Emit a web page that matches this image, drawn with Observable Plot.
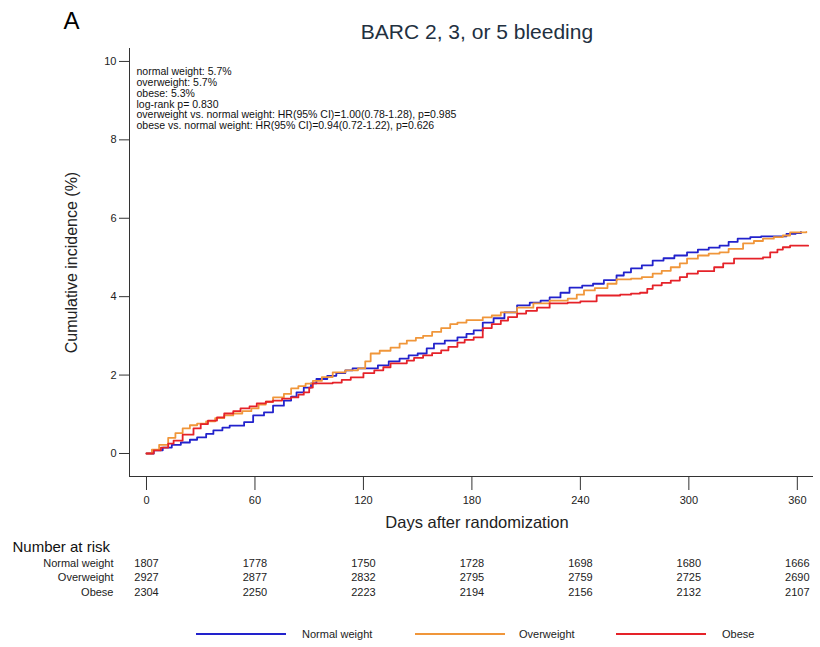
<!DOCTYPE html>
<html>
<head>
<meta charset="utf-8">
<script src="https://cdn.jsdelivr.net/npm/d3@7"></script>
<script src="https://cdn.jsdelivr.net/npm/@observablehq/plot@0.6"></script>
<style>
  body { margin: 0; background: #fff; }
  #wrap { position: relative; width: 820px; height: 647px; font-family: "Liberation Sans", Arial, sans-serif; }
  #legend { position: absolute; left: 0; top: 626px; width: 820px; height: 16px; font-size: 11px; color: #222; }
  #legend .sw { position: absolute; top: 7px; height: 2px; width: 90px; }
  #legend .lb { position: absolute; top: 1px; line-height: 14px; }
</style>
</head>
<body>
<div id="wrap"></div>
<script>
// ---------- data ----------
const groups = ["Normal weight", "Overweight", "Obese"];
const groupColors = ["#2222cc", "#f0963a", "#e52229"];

// Kaplan-Meier style cumulative incidence (%): [day, value]
const normalWeight = [[0,0],[4,0.08],[9,0.15],[14,0.22],[19,0.28],[24,0.35],[28,0.41],[33,0.5],[37,0.59],[42,0.66],[46,0.71],[54,0.8],[59,0.97],[65,1.05],[70,1.22],[76,1.35],[80,1.45],[83,1.56],[87,1.68],[91,1.79],[94,1.9],[100,1.98],[105,2.05],[110,2.12],[114,2.17],[128,2.25],[134,2.35],[140,2.42],[145,2.5],[150,2.55],[155,2.68],[159,2.8],[165,2.88],[172,2.96],[177,3.05],[181,3.14],[186,3.34],[192,3.45],[198,3.6],[205,3.78],[212,3.85],[218,3.9],[223,3.98],[229,4.1],[234,4.23],[241,4.28],[247,4.33],[253,4.42],[260,4.54],[264,4.62],[268,4.72],[274,4.8],[280,4.92],[286,4.98],[292,5.05],[299,5.13],[305,5.2],[311,5.25],[317,5.3],[322,5.4],[327,5.48],[334,5.52],[340,5.54],[354,5.6],[359,5.62],[362,5.65]];
const overweight = [[0,0],[3,0.1],[7,0.22],[12,0.4],[16,0.52],[20,0.64],[24,0.72],[28,0.76],[33,0.82],[38,0.9],[43,0.97],[48,1.02],[53,1.08],[58,1.15],[62,1.25],[66,1.32],[70,1.43],[76,1.52],[80,1.66],[84,1.72],[88,1.78],[92,1.85],[97,1.95],[103,2.07],[110,2.12],[117,2.17],[121,2.35],[124,2.55],[129,2.62],[135,2.7],[140,2.8],[144,2.88],[149,2.95],[153,3.0],[158,3.1],[163,3.2],[168,3.3],[172,3.34],[177,3.4],[186,3.47],[191,3.52],[196,3.6],[205,3.72],[214,3.83],[223,3.9],[233,3.95],[238,4.05],[242,4.16],[248,4.22],[255,4.33],[260,4.44],[268,4.46],[274,4.5],[280,4.59],[285,4.66],[290,4.75],[295,4.85],[299,4.97],[305,5.05],[311,5.1],[317,5.13],[322,5.22],[330,5.36],[336,5.42],[341,5.48],[347,5.52],[352,5.56],[356,5.64],[365,5.65]];
const obese = [[0,0],[4,0.08],[8,0.15],[12,0.25],[15,0.33],[20,0.48],[26,0.64],[30,0.75],[34,0.84],[39,0.92],[43,1.02],[48,1.08],[52,1.15],[57,1.2],[61,1.28],[66,1.32],[70,1.35],[75,1.4],[80,1.43],[84,1.5],[87,1.56],[90,1.68],[92,1.79],[103,1.81],[108,1.88],[113,1.94],[120,2.05],[126,2.12],[131,2.2],[135,2.3],[144,2.37],[148,2.44],[153,2.5],[158,2.56],[163,2.63],[167,2.72],[172,2.83],[176,2.9],[181,2.96],[186,3.2],[191,3.3],[196,3.39],[200,3.48],[205,3.57],[210,3.64],[216,3.72],[223,3.83],[233,3.85],[240,3.88],[249,4.03],[262,4.05],[268,4.08],[273,4.1],[277,4.2],[280,4.29],[285,4.35],[290,4.41],[295,4.5],[299,4.59],[305,4.65],[314,4.75],[319,4.85],[325,4.97],[341,5.0],[345,5.13],[349,5.2],[352,5.26],[356,5.3],[366,5.3]];

const xTicks = [0, 60, 120, 180, 240, 300, 360];
const yTicks = [0, 2, 4, 6, 8, 10];
const riskNormal = [1807, 1778, 1750, 1728, 1698, 1680, 1666];
const riskOver   = [2927, 2877, 2832, 2795, 2759, 2725, 2690];
const riskObese  = [2304, 2250, 2223, 2194, 2156, 2132, 2107];

const annotation = [
  "normal weight: 5.7%",
  "overweight: 5.7%",
  "obese: 5.3%",
  "log-rank p= 0.830",
  "overweight vs. normal weight: HR(95% CI)=1.00(0.78-1.28), p=0.985",
  "obese vs. normal weight: HR(95% CI)=0.94(0.72-1.22), p=0.626"
];
const panelLetter = "A";
const title = "BARC 2, 3, or 5 bleeding";
const xLabel = "Days after randomization";
const yLabel = "Cumulative incidence (%)";
const riskTitle = "Number at risk";

// ---------- build tables ----------
const series = [normalWeight, overweight, obese];
const curveRows = series.flatMap((s, i) => s.map(([day, value]) => ({day, value, group: groups[i]})));
const riskSets = [riskNormal, riskOver, riskObese];
const riskRows = riskSets.map(r => r.map((n, i) => ({day: xTicks[i], n})));

const font = "'Liberation Sans', Arial, sans-serif";
const ink = "#222";

const rowDy = [87, 101, 116];

const plot = Plot.plot({
  width: 820,
  height: 647,
  marginLeft: 129,
  marginRight: 8,
  marginTop: 48,
  marginBottom: 171,
  style: {fontFamily: font, background: "#fff", color: ink, overflow: "visible"},
  x: {domain: [-9.4, 368.4]},
  y: {domain: [-0.587, 10.33]},
  color: {domain: groups, range: groupColors},
  marks: [
    Plot.frame({anchor: "left", stroke: "#333"}),
    Plot.frame({anchor: "bottom", stroke: "#333"}),
    Plot.axisY({ticks: yTicks, tickSize: 10, tickPadding: 3, fontSize: 11, label: null, stroke: "#333"}),
    Plot.axisX({ticks: xTicks, tickSize: 14, tickPadding: 6, fontSize: 11, label: null, stroke: "#333"}),
    Plot.line(curveRows, {x: "day", y: "value", z: "group", stroke: "group", curve: "step-after", strokeWidth: 1.8}),
    Plot.text([annotation.join("\n")], {frameAnchor: "top-left", dx: 7, dy: 19, textAnchor: "start", lineAnchor: "top", fontSize: 10.5, lineHeight: 1.03, fill: "#111"}),
    Plot.text([title], {frameAnchor: "top", dx: 6, dy: -16, lineAnchor: "middle", textAnchor: "middle", fontSize: 21, fill: "#22303f"}),
    Plot.text([panelLetter], {frameAnchor: "top-left", dx: -58, dy: -27, lineAnchor: "middle", textAnchor: "middle", fontSize: 24, fill: "#000"}),
    Plot.text([xLabel], {frameAnchor: "bottom", dx: 6, dy: 46, lineAnchor: "middle", textAnchor: "middle", fontSize: 16.5, fill: ink}),
    Plot.text([yLabel], {frameAnchor: "left", dx: -58, rotate: -90, lineAnchor: "middle", textAnchor: "middle", fontSize: 16, fill: ink}),
    Plot.text([riskTitle], {frameAnchor: "bottom-left", dx: -117, dy: 71, lineAnchor: "middle", textAnchor: "start", fontSize: 15, fill: "#111"}),
    ...riskRows.map((rows, k) => Plot.text(rows, {x: "day", text: d => String(d.n), frameAnchor: "bottom", dy: rowDy[k], lineAnchor: "middle", textAnchor: "middle", fontSize: 11, fill: ink})),
    ...groups.map((g, k) => Plot.text([g], {frameAnchor: "bottom-left", dx: -16, dy: rowDy[k], lineAnchor: "middle", textAnchor: "end", fontSize: 11, fill: ink}))
  ]
});

const wrap = document.getElementById("wrap");
wrap.appendChild(plot);

// legend
const legend = document.createElement("div");
legend.id = "legend";
const legendPos = [[196, 302], [415, 519], [616, 722]];
groups.forEach((g, i) => {
  const sw = document.createElement("span");
  sw.className = "sw";
  sw.style.left = legendPos[i][0] + "px";
  sw.style.background = groupColors[i];
  const lb = document.createElement("span");
  lb.className = "lb";
  lb.style.left = legendPos[i][1] + "px";
  lb.textContent = g;
  legend.appendChild(sw);
  legend.appendChild(lb);
});
wrap.appendChild(legend);
</script>
</body>
</html>
